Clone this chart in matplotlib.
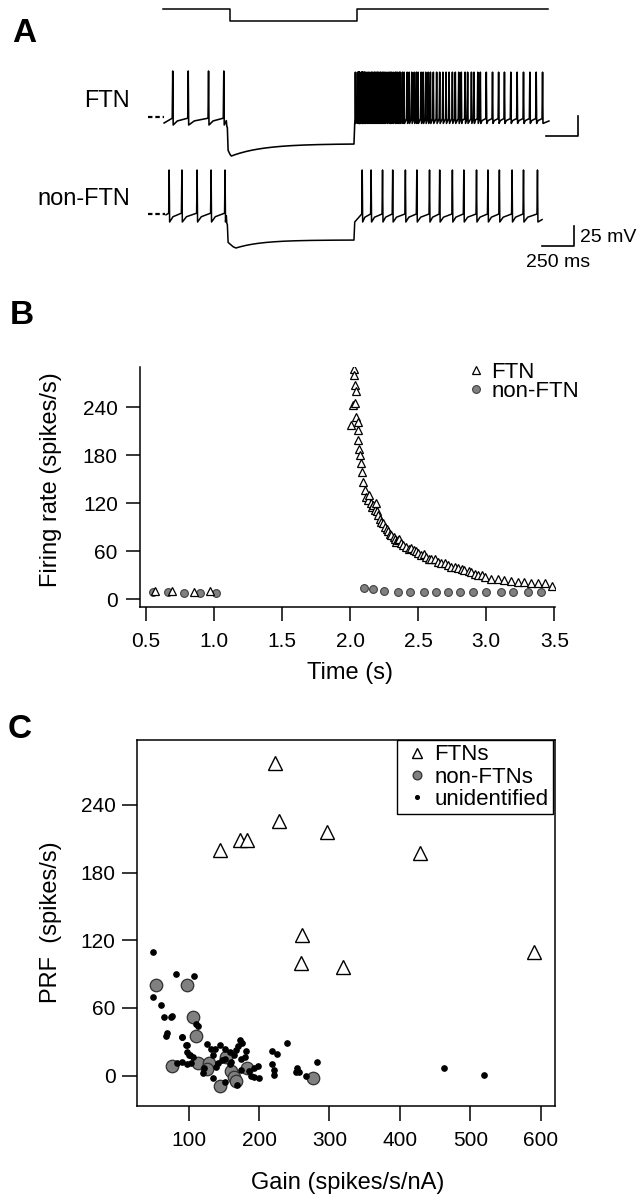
import numpy as np
import matplotlib
matplotlib.use("agg")
import matplotlib.pyplot as plt

plt.rcParams['font.family'] = ['Liberation Sans', 'DejaVu Sans']

W, H = 640, 1199

# ---------------- panel B: instantaneous firing rate vs time
ftn_t = [0.568, 0.69, 0.85, 0.97,
         2.006, 2.023, 2.031, 2.031, 2.035, 2.035, 2.04, 2.04, 2.055, 2.06, 2.06,
         2.065, 2.072, 2.079, 2.084, 2.097, 2.108, 2.12, 2.133, 2.14, 2.153, 2.16,
         2.17, 2.18, 2.187, 2.2, 2.207, 2.22, 2.23, 2.24, 2.255, 2.27, 2.28, 2.29,
         2.304, 2.32, 2.328, 2.34, 2.353, 2.36, 2.377, 2.39, 2.414, 2.43, 2.45,
         2.47, 2.487, 2.5, 2.524, 2.54, 2.56, 2.58, 2.597, 2.62, 2.646, 2.67,
         2.695, 2.72, 2.744, 2.77, 2.793, 2.82, 2.84, 2.87, 2.89, 2.92, 2.94,
         2.97, 2.99, 3.037, 3.086, 3.134, 3.18, 3.23, 3.28, 3.33, 3.38, 3.43, 3.48]
ftn_rate = [10, 10.5, 9, 10,
            218, 243, 288, 280, 267, 245, 260, 228, 222, 211, 199,
            188, 180, 170, 159, 147, 137, 128, 124, 130, 120, 115,
            118, 112, 120, 110, 105, 100, 97, 95, 91, 88, 85, 82,
            80, 78, 76, 72, 74, 75, 70, 68, 66, 63, 64,
            62, 60, 58, 55, 57, 53, 50, 51, 50, 47, 46,
            45, 43, 41, 40, 39, 38, 37, 35, 34, 32, 31,
            30, 28, 26, 25, 24, 23, 22, 22, 21, 21, 20, 17]
nonftn_t = [0.55, 0.665, 0.78, 0.90, 1.016,
            2.10, 2.17, 2.25, 2.35, 2.44, 2.54, 2.63, 2.72, 2.81, 2.90,
            3.00, 3.11, 3.20, 3.31, 3.40]
nonftn_rate = [9, 9, 8.5, 8.5, 8.5,
               14, 12.5, 10, 9.5, 9.5, 9.5, 9.5, 9.5, 9.5, 9.5,
               9, 9, 9, 9, 9]

# ---------------- panel A: spike times of the example traces (s)
ftn_spikes = sorted(ftn_t)
nonftn_spikes = [0.54, 0.64, 0.76, 0.87, 0.98,
                 2.06, 2.13, 2.22, 2.30, 2.40, 2.49, 2.59, 2.67, 2.77, 2.86,
                 2.96, 3.05, 3.14, 3.24, 3.33, 3.44]
cmd_times = [0.49, 1.02, 2.02, 3.52]
cmd_levels = [135, 120]

# ---------------- panel C: PRF vs gain
ftn_gain = [222, 228, 145, 173, 183, 297, 428, 261, 259, 319, 591]
ftn_prf = [277, 226, 200, 209, 209, 216, 197, 125, 100, 96, 110]
nonftn_gain = [53, 97, 106, 110, 76, 113, 129, 126, 153, 160, 164, 167, 183, 144, 277]
nonftn_prf = [80, 80, 52, 35, 9, 11, 11, 6, 17, 4, -1, -5, 7, -9, -2]
unid_gain = [50, 50, 60, 65, 75, 77, 69, 68, 82, 107, 110, 91, 97, 97, 100, 106,
             91, 97, 103, 126, 132, 138, 145, 152, 158, 173, 176, 182, 180, 167,
             164, 175, 147, 141, 135, 121, 135, 122, 193, 198, 200, 193, 219, 225,
             219, 221, 221, 239, 254, 253, 257, 266, 282, 462, 520, 175, 185, 189,
             151, 169, 158, 151, 90, 96, 102, 84, 113, 139, 160, 170]
unid_prf = [110, 70, 63, 52, 52, 53, 38, 35, 90, 88, 46, 34, 27, 21, 18, 17,
            12, 10, 11, 28, 24, 24, 27, 24, 21, 32, 29, 22, 17, 23,
            18, 15, 14, 11, 18, 2, -2, 7, 7, 9, -2, -1, 22, 19,
            10, 5, 1, 29, 7, 3, 3, 0, 12, 7, 1, 5, 4, 0,
            -6, -8, 10, 15, 34, 27, 18, 11, 44, 8, 12, 26]

fig = plt.figure(figsize=(W / 100, H / 100), dpi=100)


def fpos(x0, y0, x1, y1):
    return [x0 / W, 1 - y1 / H, (x1 - x0) / W, (y1 - y0) / H]


def ftext(x, y, s, **kw):
    fig.text(x / W, 1 - y / H, s, **kw)


# ================= A =================
T_ON, T_OFF = 0.99, 1.995
PX_S, X0, PX_MV, Y0 = 127.0, 100.6, 0.8, 117.0
axA = fig.add_axes(fpos(0, 0, W, 290))
axA.set_xlim(-X0 / PX_S, (W - X0) / PX_S)
axA.set_ylim((Y0 - 290) / PX_MV, Y0 / PX_MV)
axA.axis("off")


def build_trace(spikes, t0, t1, v0, pre, hyp, post):
    # pre/post: (ahp, threshold, peak)   hyp: (t_min, v_min, v_end, tau)
    ts, vs = [t0], [v0]

    def add(sp, ahp, thr, peak):
        for i, s in enumerate(sp):
            prev = ts[-1]
            rise = min(0.004, 0.5 * (s - prev)) if s > prev else 0.0005
            ts.extend([s - rise, s, s + 0.0035])
            vs.extend([thr, peak, ahp])
            if i + 1 < len(sp) and sp[i + 1] - s > 0.03:
                ts.append(s + 0.3 * (sp[i + 1] - s))
                vs.append(ahp + 0.6 * (thr - ahp))

    add([s for s in spikes if s < T_ON], *pre)
    t_min, v_min, v_end, tau = hyp
    # quick drop at current onset, then sag back
    ts.extend([T_ON, T_ON + 0.004, T_ON + 0.008, T_ON + 0.014,
               t_min - 0.35 * (t_min - T_ON - 0.014)])
    vs.extend([pre[1] - 3, pre[0] - 2, pre[0] - 3, v_min + 7, v_min + 1.5])
    tt = np.linspace(t_min, T_OFF, 60)
    ts.extend(tt)
    vs.extend(v_end + (v_min - v_end) * np.exp(-(tt - t_min) / tau))
    ts.append(T_OFF + 0.006)
    vs.append(post[0])
    add([s for s in spikes if s > T_OFF], *post)
    ts.append(t1)
    vs.append(post[0] + 3)
    return np.array(ts), np.array(vs)


off2 = (Y0 - 214) / PX_MV
t1, v1 = build_trace(ftn_spikes, 0.50, 3.53, -7.5,
                     (-10, -1.5, 57.5), (1.03, -48.75, -33.5, 0.25), (-8, -2, 56))
t2, v2 = build_trace(nonftn_spikes, 0.515, 3.476, -1,
                     (-10, 1, 55), (1.066, -42.5, -32.5, 0.2), (-10, 0, 55))
axA.plot(t1, v1, color="black", lw=1.15)
axA.plot(t2, v2 + off2, color="black", lw=1.1)
axA.plot([0.373, 0.50], [0, 0], color="black", lw=1.6, ls=(0, (2, 1.3)))
axA.plot([0.373, 0.51], [off2, off2], color="black", lw=1.6, ls=(0, (2, 1.3)))

# command step
axA.step(cmd_times, [cmd_levels[0], cmd_levels[1], cmd_levels[0], cmd_levels[0]],
         where="post", color="black", lw=1.1)

# scale bars: 250 ms, 25 mV
for xr, yb in [((578 - X0) / PX_S, -23.75), ((574 - X0) / PX_S, (Y0 - 246) / PX_MV)]:
    axA.plot([xr - 0.25, xr, xr], [yb, yb, yb + 25], color="black", lw=1.2)

ftext(130, 101, "FTN", ha="right", va="center", fontsize=17)
ftext(130, 199, "non-FTN", ha="right", va="center", fontsize=17)
ftext(580, 238, "25 mV", ha="left", va="center", fontsize=14)
ftext(526, 262, "250 ms", ha="left", va="center", fontsize=14)

# ================= B =================
axB = fig.add_axes(fpos(140, 367, 555, 606.7))
axB.plot(nonftn_t, nonftn_rate, "o", ms=5.6, mfc="#808080", mec="#404040", mew=0.8,
         label="non-FTN", zorder=2)
axB.plot(ftn_t, ftn_rate, "^", ms=5.8, mfc="white", mec="black", mew=0.9,
         label="FTN", zorder=3)
axB.set_xlim(0.457, 3.505)
axB.set_ylim(-9, 290)
axB.set_xticks([0.5, 1.0, 1.5, 2.0, 2.5, 3.0, 3.5])
axB.set_xticklabels(["0.5", "1.0", "1.5", "2.0", "2.5", "3.0", "3.5"])
axB.set_yticks([0, 60, 120, 180, 240])
for s in ["top", "right"]:
    axB.spines[s].set_visible(False)
for s in ["left", "bottom"]:
    axB.spines[s].set_linewidth(1.1)
axB.tick_params(axis="both", direction="out", length=10, width=1.1, labelsize=15)
axB.tick_params(axis="x", pad=8)
axB.tick_params(axis="y", pad=6)
h, l = axB.get_legend_handles_labels()
axB.legend(h[::-1], l[::-1], loc="upper left", bbox_to_anchor=(467 / W, 1 - 362 / H),
           bbox_transform=fig.transFigure, frameon=False, fontsize=16, borderpad=0,
           borderaxespad=0, handlelength=0.8, handletextpad=0.3, labelspacing=-0.1,
           numpoints=1)
ftext(51, 480, "Firing rate (spikes/s)", rotation=90, ha="center", va="center", fontsize=17)
ftext(350, 673, "Time (s)", ha="center", va="center", fontsize=17)

# ================= C =================
axC = fig.add_axes(fpos(137, 740, 555, 1105.7))
axC.plot(ftn_gain, ftn_prf, "^", ms=10, mfc="white", mec="black", mew=1.0, label="FTNs")
axC.plot(nonftn_gain, nonftn_prf, "o", ms=9, mfc="#808080", mec="#303030", mew=0.9,
         label="non-FTNs", zorder=2)
axC.plot(unid_gain, unid_prf, "o", ms=3.8, color="black", label="unidentified", zorder=3)
axC.set_xlim(26.6, 620.3)
axC.set_ylim(-26.6, 297.5)
axC.set_xticks([100, 200, 300, 400, 500, 600])
axC.set_yticks([0, 60, 120, 180, 240])
for s in axC.spines.values():
    s.set_linewidth(1.1)
axC.tick_params(axis="both", direction="out", length=10.5, width=1.1, labelsize=15)
axC.tick_params(axis="x", pad=8)
axC.tick_params(axis="y", pad=5)
legC = axC.legend(loc="upper right", bbox_to_anchor=(553 / W, 1 - 740 / H),
                  bbox_transform=fig.transFigure, frameon=True, fancybox=False,
                  edgecolor="black", framealpha=1, fontsize=16, borderpad=0.2,
                  borderaxespad=0, handlelength=1.4, handletextpad=0.1,
                  labelspacing=0.05, markerscale=0.7, numpoints=1)
legC.get_frame().set_linewidth(1.0)
ftext(51, 922, "PRF  (spikes/s)", rotation=90, ha="center", va="center", fontsize=17)
ftext(348, 1183, "Gain (spikes/s/nA)", ha="center", va="center", fontsize=17)

# panel letters
ftext(24, 34, "A", ha="center", va="center", fontsize=24, fontweight="bold")
ftext(22, 316, "B", ha="center", va="center", fontsize=24, fontweight="bold")
ftext(20, 729, "C", ha="center", va="center", fontsize=24, fontweight="bold")

fig.savefig("out.png", dpi=100)
